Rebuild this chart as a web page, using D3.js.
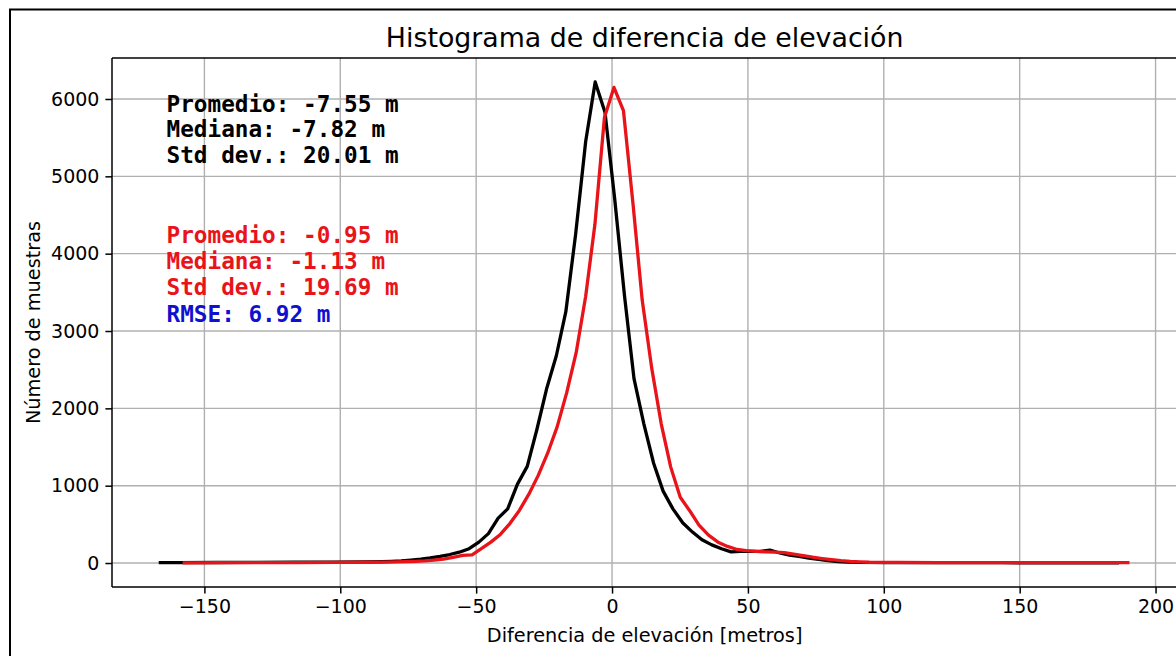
<!DOCTYPE html>
<html>
<head>
<meta charset="utf-8">
<script src="https://cdn.jsdelivr.net/npm/d3@7"></script>
<style>
  html, body { margin: 0; padding: 0; background: #fff; }
  svg { display: block; }
</style>
</head>
<body>
<div id="chart"></div>
<script>
// ---- data ----
const blackX = [-166.8, -159.7, -145.4, -131.1, -116.8, -102.5, -91.8, -84.7, -81.1, -77.6, -74.0, -70.4, -66.9, -63.3, -59.7, -56.2, -52.6, -49.0, -45.5, -41.9, -38.4, -34.8, -31.2, -27.7, -24.1, -20.5, -17.0, -13.4, -9.7, -6.2, -2.6, 1.0, 4.6, 8.1, 11.7, 15.3, 18.8, 22.4, 26.0, 29.6, 33.1, 36.7, 40.3, 43.8, 47.4, 51.0, 54.5, 58.1, 61.7, 65.3, 68.8, 72.4, 76.0, 79.5, 83.1, 86.7, 90.2, 100.9, 115.2, 129.5, 143.8, 158.1, 172.4, 186.6];
const blackY = [5, 6, 7, 8, 10, 12, 14, 18, 22, 28, 38, 50, 65, 85, 110, 140, 185, 270, 380, 580, 700, 1020, 1250, 1720, 2250, 2680, 3250, 4250, 5450, 6220, 5830, 4700, 3450, 2380, 1800, 1290, 930, 700, 520, 400, 300, 235, 185, 145, 150, 150, 150, 168, 130, 103, 85, 65, 48, 32, 18, 12, 8, 6, 5, 4, 4, 3, 3, 3];

const redX = [-158.0, -144.0, -130.0, -116.0, -102.0, -90.0, -83.0, -79.4, -75.9, -72.4, -68.9, -65.4, -62.0, -58.5, -55.0, -51.5, -48.1, -44.6, -41.1, -37.6, -34.1, -30.6, -27.2, -23.7, -20.2, -16.7, -13.2, -9.7, -6.3, -2.8, 0.7, 4.2, 7.7, 11.1, 14.6, 18.1, 21.6, 25.1, 28.5, 32.0, 35.5, 39.0, 42.5, 46.0, 49.4, 52.9, 56.4, 59.9, 63.4, 66.8, 70.3, 73.8, 77.3, 80.8, 84.2, 87.7, 91.2, 94.7, 105.0, 120.0, 135.0, 150.0, 165.0, 180.0, 190.4];
const redY = [3, 4, 5, 6, 8, 10, 12, 15, 18, 22, 28, 38, 50, 72, 100, 105, 185, 270, 370, 510, 680, 890, 1130, 1420, 1760, 2200, 2720, 3450, 4380, 5760, 6150, 5850, 4650, 3400, 2520, 1800, 1240, 850, 680, 490, 360, 270, 215, 175, 160, 150, 145, 140, 135, 115, 95, 75, 58, 43, 30, 20, 14, 10, 8, 6, 5, 5, 4, 4, 4];

const xTicks = [-150, -100, -50, 0, 50, 100, 150, 200];
const yTicks = [0, 1000, 2000, 3000, 4000, 5000, 6000];

const statsBlack = ["Promedio: -7.55 m", "Mediana: -7.82 m", "Std dev.: 20.01 m"];
const statsRed = ["Promedio: -0.95 m", "Mediana: -1.13 m", "Std dev.: 19.69 m"];
const statsRmse = "RMSE: 6.92 m";

const titleText = "Histograma de diferencia de elevación";
const xLabelText = "Diferencia de elevación [metros]";
const yLabelText = "Número de muestras";

// ---- layout ----
const W = 1176, H = 656;
const plot = { left: 112, right: 1177.3, top: 58, bottom: 587 };
const FONT = "'DejaVu Sans', sans-serif";
const MONO = "'DejaVu Sans Mono', monospace";

const svg = d3.select("#chart").append("svg").attr("width", W).attr("height", H);
svg.append("rect").attr("width", W).attr("height", H).attr("fill", "#fff");

// outer frame of the screenshot
svg.append("rect").attr("x", 10).attr("y", 9.5).attr("width", 1300).attr("height", 800)
  .attr("fill", "none").attr("stroke", "#000").attr("stroke-width", 2);

const x = d3.scaleLinear().domain([-184, 208]).range([plot.left, plot.right]);
const y = d3.scaleLinear().domain([-310, 6530]).range([plot.bottom, plot.top]);

const fmt = d => (d < 0 ? "\u2212" + Math.abs(d) : String(d));

// grid
const g = svg.append("g");
g.selectAll("line.gx").data(xTicks).join("line")
  .attr("x1", d => x(d)).attr("x2", d => x(d))
  .attr("y1", plot.top).attr("y2", plot.bottom)
  .attr("stroke", "#b0b0b0").attr("stroke-width", 1.4);
g.selectAll("line.gy").data(yTicks).join("line")
  .attr("x1", plot.left).attr("x2", plot.right)
  .attr("y1", d => y(d)).attr("y2", d => y(d))
  .attr("stroke", "#b0b0b0").attr("stroke-width", 1.4);

// curves
const line = d3.line().x(d => x(d[0])).y(d => y(d[1]));
const blackPts = blackX.map((v, i) => [v, blackY[i]]);
const redPts = redX.map((v, i) => [v, redY[i]]);
svg.append("path").datum(blackPts).attr("d", line)
  .attr("fill", "none").attr("stroke", "#000").attr("stroke-width", 3.3)
  .attr("stroke-linejoin", "round");
svg.append("path").datum(redPts).attr("d", line)
  .attr("fill", "none").attr("stroke", "#e8141a").attr("stroke-width", 3.3)
  .attr("stroke-linejoin", "round");

// axes
const xAxis = d3.axisBottom(x).tickValues(xTicks).tickFormat(fmt).tickSize(6.6).tickPadding(6);
const yAxis = d3.axisLeft(y).tickValues(yTicks).tickFormat(fmt).tickSize(6.6).tickPadding(6);
const gx = svg.append("g").attr("transform", `translate(0,${plot.bottom})`).call(xAxis);
const gy = svg.append("g").attr("transform", `translate(${plot.left},0)`).call(yAxis);
[gx, gy].forEach(a => {
  a.select(".domain").remove();
  a.selectAll(".tick line").attr("stroke", "#000").attr("stroke-width", 1.5);
  a.selectAll(".tick text").attr("fill", "#000").style("font-family", FONT).style("font-size", "19px");
});

// spines
svg.append("line").attr("x1", plot.left).attr("x2", plot.left).attr("y1", plot.top).attr("y2", plot.bottom)
  .attr("stroke", "#000").attr("stroke-width", 1.5);
svg.append("line").attr("x1", plot.left).attr("x2", plot.right).attr("y1", plot.bottom).attr("y2", plot.bottom)
  .attr("stroke", "#000").attr("stroke-width", 1.5);
svg.append("line").attr("x1", plot.left).attr("x2", plot.right).attr("y1", plot.top).attr("y2", plot.top)
  .attr("stroke", "#000").attr("stroke-width", 1.5);
svg.append("line").attr("x1", plot.right).attr("x2", plot.right).attr("y1", plot.top).attr("y2", plot.bottom)
  .attr("stroke", "#000").attr("stroke-width", 1.5);

// title & labels
const cx = (plot.left + plot.right) / 2;
svg.append("text").attr("x", cx).attr("y", 47).attr("text-anchor", "middle")
  .style("font-family", FONT).style("font-size", "26.8px").attr("fill", "#000").text(titleText);
svg.append("text").attr("x", cx).attr("y", 642).attr("text-anchor", "middle")
  .style("font-family", FONT).style("font-size", "19.3px").attr("fill", "#000").text(xLabelText);
svg.append("text").attr("transform", `translate(40,${(plot.top + plot.bottom) / 2}) rotate(-90)`)
  .attr("text-anchor", "middle")
  .style("font-family", FONT).style("font-size", "19.3px").attr("fill", "#000").text(yLabelText);

// stats annotations
const ann = svg.append("g").style("font-family", MONO).style("font-size", "22.7px").style("font-weight", "bold");
ann.selectAll("text.b").data(statsBlack).join("text")
  .attr("x", 166.5).attr("y", (d, i) => 111.7 + i * 25.6).attr("fill", "#000").text(d => d);
ann.selectAll("text.r").data(statsRed).join("text")
  .attr("x", 166.5).attr("y", (d, i) => 243.3 + i * 25.9).attr("fill", "#e8141a").text(d => d);
ann.append("text").attr("x", 166.5).attr("y", 321.5).attr("fill", "#1010d0").text(statsRmse);
</script>
</body>
</html>
